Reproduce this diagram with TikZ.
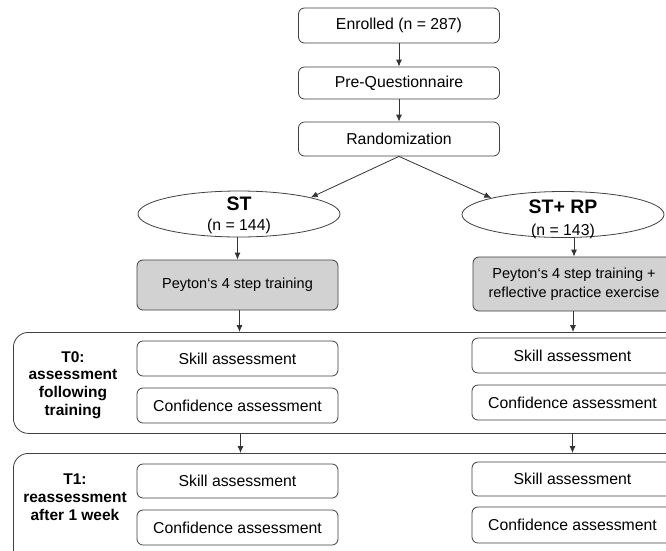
\documentclass[tikz,border=0pt]{standalone}
\usepackage{fontspec}
\setmainfont{Liberation Sans}
\usetikzlibrary{arrows.meta,shapes.geometric}
\begin{document}
\begin{tikzpicture}[x=1pt,y=-1pt,
  line width=0.8pt,
  every node/.style={font=\fontsize{15.8}{18}\selectfont, text=black},
  box/.style={draw=black!75, rounded corners=6pt, minimum width=201pt, inner sep=0pt, align=center},
  graybox/.style={box, fill=gray!35, font=\fontsize{14.5}{18.5}\selectfont},
  oval/.style={draw=black!75, ellipse, minimum width=202pt, minimum height=46pt, inner sep=0pt},
  frame/.style={draw=black!75, rounded corners=15pt, inner sep=0pt, anchor=north west},
  lab/.style={align=center, font=\fontsize{15.5}{17.8}\selectfont\bfseries},
  arr/.style={draw=black!80, -{Latex[length=7pt,width=6pt]}}
]
\clip (0,0) rectangle (666,550);
\fill[white] (0,0) rectangle (666,550);

% top column
\node[box, minimum height=35pt] (enr) at (399,25.5) {Enrolled (n = 287)};
\node[box, minimum height=32pt] (preq) at (399,83) {Pre-Questionnaire};
\node[box, minimum height=34pt] (rand) at (399,139) {Randomization};

% ellipses
\node[oval] (st) at (239,214) {};
\node[font=\fontsize{19.5}{20}\selectfont\bfseries] (stt) at (239,204) {ST};
\node (stn) at (239,226) {(n = 144)};
\node[oval] (strp) at (563,214.5) {};
\node[font=\fontsize{19.5}{20}\selectfont\bfseries] (strpt) at (563,207) {ST+ RP};
\node (strpn) at (563,231) {(n = 143)};

% gray boxes
\node[graybox, minimum height=50pt] (g1) at (237.5,285) {Peyton‘s 4 step training};
\node[graybox, minimum height=54pt, minimum width=202pt] (g2) at (574,284) {Peyton‘s 4 step training +\\reflective practice exercise};

% frames
\node[frame, minimum width=720pt, minimum height=101pt] (t0) at (13,332) {};
\node[frame, minimum width=720pt, minimum height=120pt] (t1) at (13,453) {};

\node[lab] (t0l) at (73,385) {T0:\\assessment\\following\\training};
\node[lab] (t1l) at (75,497) {T1:\\reassessment\\after 1 week};

% assessment boxes left
\node[box, minimum height=35pt] (sk1) at (237.5,358.5) {Skill assessment};
\node[box, minimum height=35pt] (cf1) at (237.5,405.5) {Confidence assessment};
\node[box, minimum height=34pt] (sk2) at (237.5,481) {Skill assessment};
\node[box, minimum height=35pt] (cf2) at (237.5,527.5) {Confidence assessment};
% right
\node[box, minimum height=35pt] (sk3) at (572.5,355.5) {Skill assessment};
\node[box, minimum height=35pt] (cf3) at (572.5,402.5) {Confidence assessment};
\node[box, minimum height=34pt] (sk4) at (572.5,479) {Skill assessment};
\node[box, minimum height=36pt] (cf4) at (572.5,525) {Confidence assessment};

% connectors
\draw[arr] (enr.south) -- (preq.north);
\draw[arr] (preq.south) -- (rand.north);
\draw[arr] (rand.south) -- (st.north east);
\draw[arr] (rand.south) -- (strp.north west);
\draw[arr] (st.south -| g1.north) -- (g1.north);
\draw[arr] (strp.south -| g2.north) -- (g2.north);
\draw[arr] ([xshift=2pt]g1.south) -- ([xshift=2pt]g1.south |- t0.north);
\draw[arr] ([xshift=-1pt]g2.south) -- ([xshift=-1pt]g2.south |- t0.north);
\draw[arr] ([xshift=3pt]cf1.south |- t0.south) -- ([xshift=3pt]cf1.south |- t1.north);
\draw[arr] (cf3.south |- t0.south) -- (cf3.south |- t1.north);
\end{tikzpicture}
\end{document}
